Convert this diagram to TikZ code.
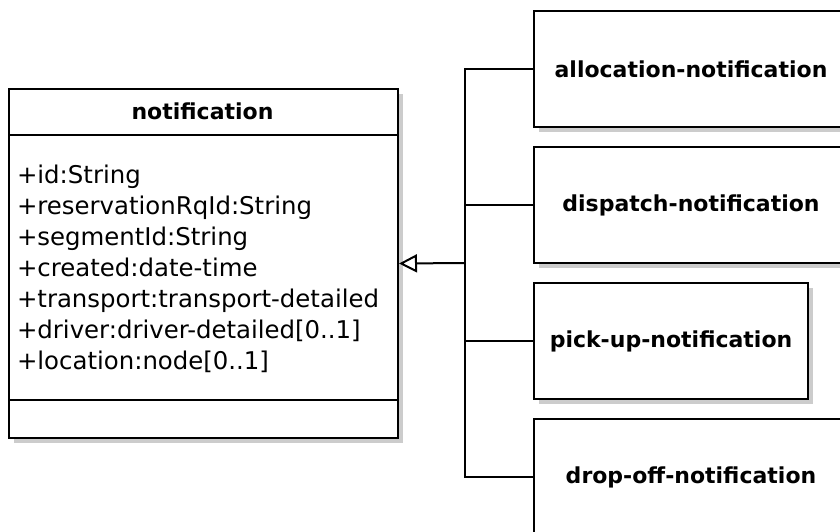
\documentclass[tikz,border=0pt]{standalone}
\usepackage{fontspec}
\setmainfont{DejaVu Sans}
\usetikzlibrary{arrows.meta,shadows}

\begin{document}
\begin{tikzpicture}[x=1pt,y=-1pt,line width=2pt,line cap=rect,
    box/.style={draw,fill=white,inner sep=0pt,drop shadow={shadow xshift=5pt,shadow yshift=-5pt,fill=black!20,opacity=1}},
    subcls/.style={box,anchor=north west,minimum width=314pt,minimum height=116pt,font=\fontsize{22}{26}\selectfont\bfseries},
    attr/.style={anchor=base west,inner sep=0pt,font=\fontsize{24.4}{28}\selectfont},
    inherit/.style={-{Triangle[open,length=18pt,width=18pt]}}]

                \useasboundingbox (0,0) rectangle (840,531);
                \clip (0,0) rectangle (840,531);

                \node[box,anchor=north west,minimum width=389pt,minimum height=349pt] (notif) at (8,88) {};
                \node[font=\fontsize{22}{26}\selectfont\bfseries] (title) at (202.5,111) {notification};
                \draw[line cap=butt] ([yshift=-47pt]notif.north west) -- ([yshift=-47pt]notif.north east);
                \draw[line cap=butt] ([yshift=39pt]notif.south west) -- ([yshift=39pt]notif.south east);
                \foreach \txt [count=\i] in {+id:String,+reservationRqId:String,+segmentId:String,+created:date-time,+transport:transport-detailed,{+driver:driver-detailed[0..1]},{+location:node[0..1]}}
                    \node[attr] (attr\i) at (16,152+31*\i) {\txt};

                \node[subcls] (alloc) at (533,10) {allocation-notification};
                \node[subcls] (disp) at (533,146) {dispatch-notification};
                \node[subcls,minimum width=274pt] (pick) at (533,282) {pick-up-notification};
                \node[subcls] (drop) at (533,418) {drop-off-notification};

                \coordinate (joint) at (465,263);
                \draw (joint |- alloc.west) -- (joint |- drop.west);
                \foreach \n in {alloc,disp,pick,drop}
                    \draw (joint |- \n.west) -- (\n.west);
                \draw[inherit,line cap=butt] (joint) -- (notif.east);

            \end{tikzpicture}
\end{document}
